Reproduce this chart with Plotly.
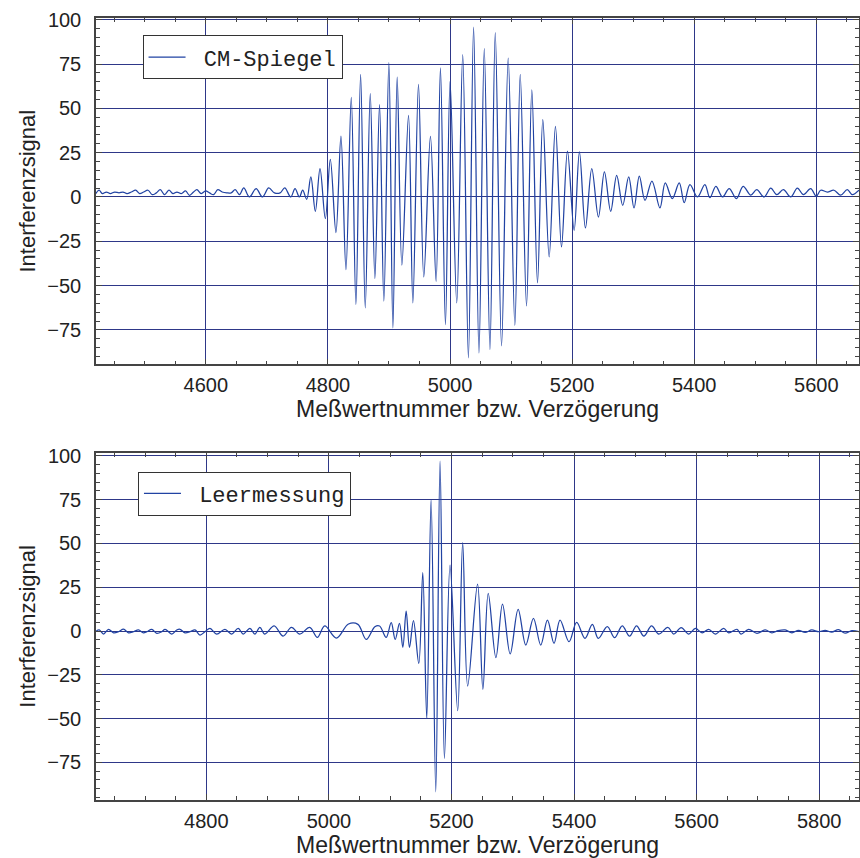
import plotly.graph_objects as go

# ---------------- data ----------------
# Top panel: "CM-Spiegel"
cm_x = [4419.6, 4425, 4430.5, 4437, 4443.6, 4450.6, 4457.7, 4464.2, 4470.8, 4477.9,
        4485, 4491.5, 4498.1, 4505.2, 4512.2, 4518.8, 4525.3, 4532.4, 4539.5, 4546,
        4552.6, 4559.7, 4566.7, 4573.3, 4579.8, 4585.3, 4592.4, 4599.5, 4606, 4612.5,
        4619.6, 4626.7, 4634.3, 4641.4, 4648, 4655.1, 4662.1, 4671.4, 4682.3, 4692.7,
        4703, 4712.3, 4721.6, 4729.2, 4739, 4746.1, 4753.2, 4758.6, 4765.2,
        4772, 4779.3, 4787, 4795.7, 4803.9, 4813.1, 4821.3, 4829.5, 4838.2, 4845.8,
        4853.5, 4861.1, 4869.3, 4876.9, 4884.5, 4891.6, 4899.8, 4906.4, 4913.4, 4921.1,
        4932, 4939.1, 4948.3, 4957, 4967.9, 4977.2, 4984.3, 4992.5, 5000.1, 5011,
        5020.8, 5030.1, 5038.6, 5047.4, 5056.1, 5065.4, 5074.1, 5084.4, 5095.3, 5106.2,
        5115, 5125.3, 5134, 5143.3, 5152, 5162.4, 5172.7, 5182.6, 5192.4, 5203.3,
        5212, 5221.8, 5232.2, 5243.1, 5252.9, 5263.2, 5273, 5282.9, 5292.7, 5301.4,
        5310.1, 5319.4, 5330.8, 5343.9, 5352.6, 5364.1, 5375.5, 5383.7, 5393, 5405.5,
        5417.5, 5425.7, 5435.5, 5446.4, 5457.3, 5469.3, 5480.2, 5492.7, 5502.5, 5514.5,
        5525.4, 5535.2, 5546.1, 5558.1, 5569, 5578.9, 5590.8, 5600.1, 5607.2, 5618.1,
        5629, 5639.9, 5650.8, 5659, 5669.9]
cm_y = [1.9, 3.8, 1.9, 2.8, 1.9, 2.8, 2.3, 2.8, 1.9, 2.8,
        3.8, 1.9, 2.8, 3.8, 1.3, 2.3, 4.1, 1.3, 3.8, 1.9,
        2.8, 1.9, 3.4, 0.9, 2.8, 4.1, 1.9, 3.4, 2.3, 1.3,
        4.1, 2.8, 2.3, 2.3, 4.1, 1.3, 5.1, 0.0, 4.7, 0.0,
        5.1, 2.3, 2.3, 5.1, 0.0, 4.7, 0.0, 3.8, -1.3,
        11.3, -8.1, 16.0, -12.2, 21.2, -20.1, 34.4, -41.0, 56.2, -60.7,
        69.2, -62.6, 58.3, -46.0, 52.1, -58.8, 75.8, -73.9, 67.7, -38.5,
        46.0, -59.8, 63.5, -45.1, 34.2, -47.6, 72.8, -72.0, 65.4, -59.8,
        80.3, -90.8, 95.9, -88.0, 83.7, -86.1, 92.7, -84.0, 78.4, -72.4,
        69.2, -61.5, 60.5, -48.5, 43.6, -33.8, 39.9, -28.2, 25.9, -18.8,
        25.4, -17.5, 16.0, -11.3, 14.1, -8.1, 12.2, -4.7, 11.3, -6.2,
        11.7, -1.9, 9.0, -6.2, 7.9, -0.9, 7.9, -3.2, 7.0, 0.0,
        7.0, -0.4, 6.0, 0.0, 4.7, -0.9, 6.0, 1.0, 4.1, 0.0,
        5.0, 1.3, 4.1, 0.0, 5.0, 1.3, 4.7, 0.4, 3.8, 2.8,
        3.8, 1.0, 4.1, 1.3, 3.8]

# Bottom panel: "Leermessung"
lm_x = [4620.4, 4625.3, 4632.3, 4640.5, 4648.6, 4656.8, 4664.9, 4673, 4681.2, 4689.3,
        4697.4, 4702.9, 4711, 4719.2, 4727.3, 4732.7, 4743.6, 4751.7, 4757.1, 4765.3,
        4773.4, 4781.6, 4789.7, 4797.8, 4806, 4816.8, 4830.4, 4841.2, 4852.1, 4860.2,
        4871.1, 4879.2, 4887.4, 4895.5, 4910.7, 4925.3, 4938.9, 4952.5, 4968.7, 4981.2,
        4993.2, 5012.2, 5032, 5047.4, 5061, 5075, 5082.7, 5093.5, 5101.7, 5108.2,
        5115.2, 5120.7, 5126.1, 5131.5, 5138, 5146.7, 5153.2, 5159.7, 5166.8, 5174.4,
        5181.4, 5188.5, 5197.7, 5210.2, 5218.3, 5226.5, 5242.6, 5251.3, 5260, 5272.5,
        5283.3, 5295.8, 5308.8, 5321.3, 5333.8, 5345.7, 5356.6, 5367.4, 5377.2, 5391.9,
        5404.3, 5417.9, 5429.9, 5439.6, 5454.3, 5466.2, 5478.7, 5490.6, 5502, 5514,
        5526.5, 5538.4, 5553.1, 5562.8, 5574.8, 5587.2, 5598.1, 5609, 5619.8, 5630.7,
        5644.2, 5652.4, 5665.9, 5672.5, 5684.9, 5698.5, 5712.1, 5722.9, 5733, 5744.6,
        5755.5, 5766.3, 5777.2, 5788, 5798.9, 5809.8, 5820.6, 5831.5, 5842.3, 5853.2,
        5865.7]
lm_y = [0.0, 0.6, -1.7, 1.0, -1.0, -0.4, 1.1, -1.0, -0.4, 0.6,
        -1.0, -0.4, 1.0, -1.3, -0.4, 1.0, -1.7, 0.6, 1.0, -1.0,
        -0.4, 0.6, -2.3, -0.4, 1.5, -1.7, 1.0, -1.7, 1.5, -1.7,
        1.5, -1.7, 2.1, -1.7, 2.9, -2.9, 2.1, -1.7, 2.1, -3.6,
        2.9, -4.0, 4.0, 3.8, -4.8, 2.5, 2.9, -3.6, 4.8, -4.8,
        4.4, -9.3, 11.4, -9.3, 5.9, -18.5, 33.3, -49.9, 75.2, -91.8,
        97.1, -72.7, 37.7, -45.5, 50.5, -31.4, 26.8, -33.3, 21.5, -15.2,
        15.4, -13.1, 12.4, -8.0, 7.2, -8.0, 6.3, -7.0, 6.3, -6.1,
        4.9, -4.2, 3.8, -4.2, 2.5, -3.8, 3.0, -2.9, 3.0, -2.9,
        2.9, -1.7, 2.1, -1.7, 1.9, -1.7, 1.5, -1.0, 1.0, -1.7,
        1.5, -1.0, 1.0, -1.7, 1.0, -1.3, 0.6, -1.0, 0.2, 0.6,
        -1.0, 0.4, -0.8, 0.6, -0.4, 0.4, -0.6, 0.8, -1.2, 0.2,
        -0.4]

series_names = ["CM-Spiegel", "Leermessung"]
x_title = "Meßwertnummer bzw. Verzögerung"
y_title = "Interferenzsignal"
y_ticks = [-75, -50, -25, 0, 25, 50, 75, 100]

# ---------------- styling ----------------
LINE = "#2143a3"
GRID = "#2e3788"
FRAME = "#444444"
FONT = "Liberation Sans, Arial, sans-serif"
GAP = "\u00a0"  # spacing between legend line sample and label

fig = go.Figure()
fig.add_trace(go.Scatter(x=cm_x, y=cm_y, mode="lines", name=GAP + series_names[0],
                         line=dict(color=LINE, width=1.25, shape="spline", smoothing=1.0),
                         xaxis="x", yaxis="y", legend="legend"))
fig.add_trace(go.Scatter(x=lm_x, y=lm_y, mode="lines", name=GAP + series_names[1],
                         line=dict(color=LINE, width=1.25, shape="spline", smoothing=1.0),
                         xaxis="x2", yaxis="y2", legend="legend2"))

def xax(rng, anchor):
    return dict(range=rng, anchor=anchor, dtick=200, tick0=0,
                ticks="inside", ticklen=6, tickcolor=FRAME, tickwidth=1,
                minor=dict(dtick=50, tick0=0, ticks="inside", ticklen=4, tickcolor=FRAME, showgrid=False),
                showline=True, linecolor=FRAME, linewidth=1.5, mirror="ticks",
                showgrid=True, gridcolor=GRID, gridwidth=1, zeroline=False,
                ticklabelstandoff=2, automargin=False,
                tickfont=dict(family=FONT, size=20, color="#222"),
                title=dict(text=x_title, font=dict(family=FONT, size=23, color="#222"), standoff=2))

def yax(rng, anchor, domain):
    return dict(range=rng, anchor=anchor, domain=domain, tickvals=y_ticks,
                ticks="inside", ticklen=6, tickcolor=FRAME, tickwidth=1,
                minor=dict(dtick=5, tick0=0, ticks="inside", ticklen=4, tickcolor=FRAME, showgrid=False),
                showline=True, linecolor=FRAME, linewidth=1.5, mirror="ticks",
                showgrid=True, gridcolor=GRID, gridwidth=1, zeroline=False,
                ticklabelstandoff=9, automargin=False,
                tickfont=dict(family=FONT, size=20, color="#222"),
                title=dict(text=y_title, font=dict(family=FONT, size=22, color="#222"), standoff=6))

legend_common = dict(xanchor="left", yanchor="top", bgcolor="white",
                     bordercolor="#333", borderwidth=1,
                     font=dict(family="Liberation Mono, Courier New, monospace", size=22, color="#222"),
                     itemwidth=37)

fig.update_layout(
    width=860, height=858,
    margin=dict(l=96, r=1, t=18, b=58),
    paper_bgcolor="white", plot_bgcolor="white",
    showlegend=True,
    xaxis=dict(xax([4420, 5670], "y"), domain=[0.0, 1.0]),
    yaxis=yax([-94.5, 101], "x", [0.557, 1.0]),
    xaxis2=dict(xax([4620, 5865], "y2"), domain=[0.0, 1.0]),
    yaxis2=yax([-96.5, 101.8], "x2", [0.0, 0.444]),
    legend=dict(legend_common, x=0.061, y=0.978),
    legend2=dict(legend_common, x=0.055, y=0.42),
)

# remove the default 8px page margin so the figure sits at the window's top-left corner
fig.write_html("out.html", config={"displayModeBar": False},
               post_script="document.body.style.margin='0px';document.body.style.overflow='hidden';")
